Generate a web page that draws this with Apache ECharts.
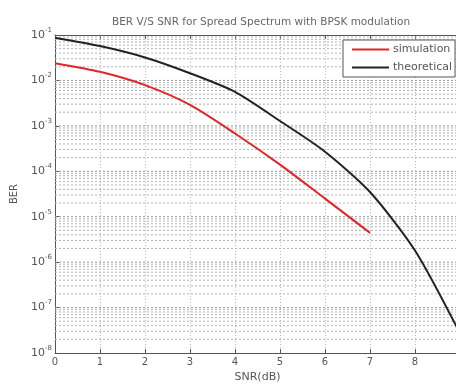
<!DOCTYPE html>
<html>
<head>
<meta charset="utf-8">
<script src="https://cdn.jsdelivr.net/npm/echarts@6/dist/echarts.min.js"></script>
<style>html,body{margin:0;padding:0;background:#fff}#c{width:456px;height:385px}</style>
</head>
<body>
<div id="c"></div>
<script>
var snr = [0, 1, 2, 3, 4, 5, 6, 7, 8, 9];
var simulation = [0.024, 0.0155, 0.0079, 0.0029, 6.8e-4, 1.4e-4, 2.5e-5, 4.4e-6];
var theoretical = [0.087, 0.057, 0.032, 0.0144, 0.0056, 0.00128, 2.7e-4, 3.5e-5, 1.8e-6, 2.7e-8];
var yExponents = [-8, -7, -6, -5, -4, -3, -2, -1];
var titleText = 'BER V/S SNR for Spread Spectrum with BPSK modulation';

var chart = echarts.init(document.getElementById('c'));
var txt = '#555';
var font = 'DejaVu Sans';
var gridSeries = [];
for (var i = 0; i < yExponents.length - 1; i++) {
  for (var m = 1; m <= 9; m++) {
    if (m === 1 && i === 0) continue;
    var v = m * Math.pow(10, yExponents[i]);
    gridSeries.push({
      type: 'line', silent: true, showSymbol: false, z: 1,
      data: [[snr[0], v], [snr[snr.length - 1], v]],
      lineStyle: { color: m === 1 ? '#999' : '#b4b4b4', type: [2, 2], width: 1 },
      emphasis: { disabled: true }, tooltip: { show: false }
    });
  }
}
chart.setOption({
  animation: false,
  title: {
    text: titleText, left: 256, top: 12, textAlign: 'center',
    textStyle: { fontSize: 10.5, fontWeight: 'normal', color: '#666', fontFamily: font }
  },
  legend: {
    left: 343, top: 40, orient: 'vertical', itemWidth: 37, itemHeight: 2, itemGap: 7,
    backgroundColor: '#fff', borderColor: '#555', borderWidth: 1, borderRadius: 0,
    padding: [4, 3, 4, 9],
    icon: 'rect',
    textStyle: { fontSize: 11, color: txt, fontFamily: font, padding: [0, 0, 0, -1] },
    data: ['simulation', 'theoretical']
  },
  grid: { left: 55, top: 35, width: 405, height: 318, outerBoundsMode: 'none', containLabel: false },
  xAxis: [{
    type: 'value', min: 0, max: 9, interval: 1,
    name: 'SNR(dB)', nameLocation: 'middle', nameGap: 19,
    nameTextStyle: { fontSize: 11, color: txt, fontFamily: font },
    axisLine: { lineStyle: { color: '#555', width: 1 } },
    axisTick: { inside: true, length: 4, lineStyle: { color: '#555' } },
    axisLabel: { fontSize: 10, color: txt, margin: 4, fontFamily: font },
    splitLine: { show: true, lineStyle: { color: '#bbb', type: [1, 2], width: 1 } }
  }, {
    type: 'value', min: 0, max: 9, interval: 1, position: 'top',
    axisLine: { show: true, lineStyle: { color: '#555', width: 1 } },
    axisTick: { show: true, inside: true, length: 4, lineStyle: { color: '#555' } },
    axisLabel: { show: false }, splitLine: { show: false }
  }],
  yAxis: {
    type: 'log', logBase: 10, min: 1e-8, max: 1e-1,
    name: 'BER', nameLocation: 'middle', nameGap: 36,
    nameTextStyle: { fontSize: 10, color: txt, fontFamily: font },
    axisLine: { show: true, lineStyle: { color: '#555', width: 1 } },
    axisTick: { show: true, inside: true, length: 4, lineStyle: { color: '#555' } },
    axisLabel: {
      margin: 3, color: txt, fontSize: 11, fontFamily: font,
      formatter: function (v) {
        var e = Math.round(Math.log10(v));
        return '10{s|' + e + '}';
      },
      rich: { s: { fontSize: 7, verticalAlign: 'top', padding: [0, 0, 10, 0], color: txt, fontFamily: font } }
    },
    splitLine: { show: false }
  },
  series: gridSeries.concat([
    {
      name: 'simulation', type: 'line', showSymbol: false, smooth: 0.25,
      data: simulation.map(function (v, i) { return [snr[i], v]; }),
      lineStyle: { color: '#e0262b', width: 2 }, itemStyle: { color: '#e0262b' },
      z: 3
    },
    {
      name: 'theoretical', type: 'line', showSymbol: false, smooth: 0.25,
      data: theoretical.map(function (v, i) { return [snr[i], v]; }),
      lineStyle: { color: '#222', width: 2 }, itemStyle: { color: '#222' },
      z: 3
    }
  ])
});
</script>
</body>
</html>
